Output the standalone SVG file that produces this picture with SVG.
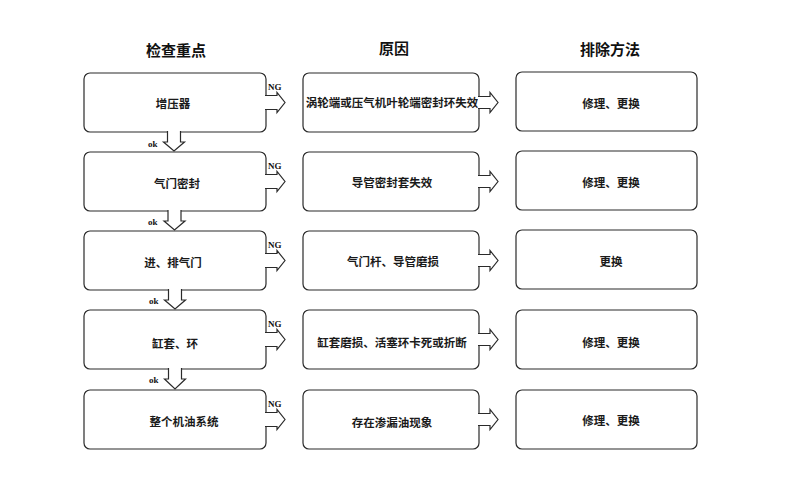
<svg xmlns="http://www.w3.org/2000/svg" width="800" height="500" viewBox="0 0 800 500">
<style>
.box{fill:#fff;stroke:#2a2a2a;stroke-width:1.2}
.arr{fill:#fff;stroke:#2a2a2a;stroke-width:1.2;stroke-linejoin:miter}
.hd{font-family:"Noto Sans CJK SC","Noto Sans CJK JP",sans-serif;font-size:15px;font-weight:bold;fill:#111;text-anchor:middle}
.t{font-family:"Noto Sans CJK SC","Noto Sans CJK JP",sans-serif;font-size:11.5px;font-weight:bold;fill:#1a1a1a;text-anchor:middle}
.lb{font-family:"Liberation Serif",serif;font-size:9px;font-weight:bold;fill:#111}
</style>
<rect width="800" height="500" fill="#fff"/>
<g id="headers">
<text class="hd" x="176" y="56">检查重点</text>
<text class="hd" x="394" y="54">原因</text>
<text class="hd" x="610" y="55">排除方法</text>
</g>
<g id="check1"><rect class="box" x="84" y="73" width="182" height="59" rx="6"/><text class="t" x="173" y="108">增压器</text></g>
<g id="check2"><rect class="box" x="84" y="152" width="182" height="59" rx="6"/><text class="t" x="177" y="188">气门密封</text></g>
<g id="check3"><rect class="box" x="84" y="231" width="182" height="59" rx="6"/><text class="t" x="173" y="267">进、排气门</text></g>
<g id="check4"><rect class="box" x="84" y="310" width="182" height="59" rx="6"/><text class="t" x="175" y="348">缸套、环</text></g>
<g id="check5"><rect class="box" x="84" y="390" width="182" height="59" rx="6"/><text class="t" x="184" y="426">整个机油系统</text></g>
<g id="cause1"><rect class="box" x="303" y="73" width="176" height="59" rx="6"/><text class="t" x="392" y="107">涡轮端或压气机叶轮端密封环失效</text></g>
<g id="cause2"><rect class="box" x="303" y="152" width="176" height="59" rx="6"/><text class="t" x="392" y="187">导管密封套失效</text></g>
<g id="cause3"><rect class="box" x="303" y="231" width="176" height="59" rx="6"/><text class="t" x="393" y="266">气门杆、导管磨损</text></g>
<g id="cause4"><rect class="box" x="303" y="310" width="176" height="59" rx="6"/><text class="t" x="392" y="347">缸套磨损、活塞环卡死或折断</text></g>
<g id="cause5"><rect class="box" x="303" y="390" width="176" height="59" rx="6"/><text class="t" x="392" y="427">存在渗漏油现象</text></g>
<g id="fix1"><rect class="box" x="516" y="72" width="181" height="59" rx="6"/><text class="t" x="611" y="108">修理、更换</text></g>
<g id="fix2"><rect class="box" x="516" y="151" width="181" height="59" rx="6"/><text class="t" x="611" y="187">修理、更换</text></g>
<g id="fix3"><rect class="box" x="516" y="230" width="181" height="59" rx="6"/><text class="t" x="611" y="266">更换</text></g>
<g id="fix4"><rect class="box" x="516" y="310" width="181" height="59" rx="6"/><text class="t" x="611" y="347">修理、更换</text></g>
<g id="fix5"><rect class="box" x="516" y="390" width="181" height="59" rx="6"/><text class="t" x="611" y="425">修理、更换</text></g>
<g id="connectors">
<path class="arr" d="M265,95.5 H277 V92.5 L285,102.5 L277,112.5 V109.5 H265"/>
<path class="arr" d="M265,174.5 H277 V171.5 L285,181.5 L277,191.5 V188.5 H265"/>
<path class="arr" d="M265,253.5 H277 V250.5 L285,260.5 L277,270.5 V267.5 H265"/>
<path class="arr" d="M265,332.5 H277 V329.5 L285,339.5 L277,349.5 V346.5 H265"/>
<path class="arr" d="M265,412.5 H277 V409.5 L285,419.5 L277,429.5 V426.5 H265"/>
<path class="arr" d="M478,96.5 H490 V92.5 L498,102.5 L490,112.5 V108.5 H478"/>
<path class="arr" d="M478,175.5 H490 V171.5 L498,181.5 L490,191.5 V187.5 H478"/>
<path class="arr" d="M478,254.5 H490 V250.5 L498,260.5 L490,270.5 V266.5 H478"/>
<path class="arr" d="M478,333.5 H490 V329.5 L498,339.5 L490,349.5 V345.5 H478"/>
<path class="arr" d="M478,413.5 H490 V409.5 L498,419.5 L490,429.5 V425.5 H478"/>
<path class="arr" d="M167.5,131 V142 H163.5 L174,151 L184.5,142 H180.5 V131"/>
<path class="arr" d="M168,210 V221 H164 L174.5,230 L185,221 H181 V210"/>
<path class="arr" d="M168.5,289 V300 H164.5 L175,309 L185.5,300 H181.5 V289"/>
<path class="arr" d="M168.5,368 V379 H164.5 L175,389 L185.5,379 H181.5 V368"/>
<text class="lb" x="268" y="90">NG</text>
<text class="lb" x="268" y="169">NG</text>
<text class="lb" x="268" y="248">NG</text>
<text class="lb" x="268" y="327">NG</text>
<text class="lb" x="268" y="407">NG</text>
<text class="lb" x="148" y="147">ok</text>
<text class="lb" x="148" y="225">ok</text>
<text class="lb" x="149" y="304">ok</text>
<text class="lb" x="149" y="383">ok</text>
</g>
</svg>
